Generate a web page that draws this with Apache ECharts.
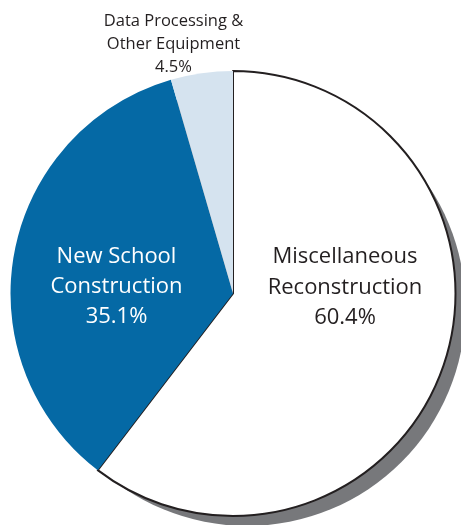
<!DOCTYPE html>
<html>
<head>
<meta charset="utf-8">
<script src="https://cdn.jsdelivr.net/npm/echarts@6/dist/echarts.min.js"></script>
<style>
html,body{margin:0;padding:0;background:#fff;}
#chart{width:461px;height:525px;}
</style>
</head>
<body>
<div id="chart"></div>
<script>
const categories = ['Miscellaneous\nReconstruction', 'New School\nConstruction', 'Data Processing &\nOther Equipment'];
const values = [60.4, 35.1, 4.5];
const sliceColors = ['#ffffff', '#0569a5', '#d5e3ef'];
const labelColors = ['#231f20', '#ffffff', '#231f20'];
const labelSizes = [22, 22, 16.5];
const labelLineHeights = [30.5, 30, 23];
const labelPos = [[345, 287.5], [116.5, 286.5], [173.5, 44.5]];

const chart = echarts.init(document.getElementById('chart'), null, {renderer: 'canvas'});
const FONT = '"Open Sans", "Noto Sans", sans-serif';

const data = categories.map((c, i) => ({
  name: c,
  value: values[i],
  itemStyle: {
    color: sliceColors[i],
    borderColor: i === 0 ? '#231f20' : sliceColors[i],
    borderWidth: i === 0 ? 2 : 0
  },
  label: {
    color: labelColors[i],
    fontSize: labelSizes[i],
    lineHeight: labelLineHeights[i]
  }
}));

chart.setOption({
  animation: false,
  backgroundColor: '#ffffff',
  series: [
    {
      type: 'pie',
      silent: true,
      center: [247, 307.5],
      radius: [0, 218.5],
      z: 1,
      label: {show: false},
      labelLine: {show: false},
      itemStyle: {color: '#77787b'},
      data: [{value: 1, name: 'shadow'}]
    },
    {
      type: 'pie',
      z: 2,
      center: [233, 293.5],
      radius: [0, 222.5],
      startAngle: 90,
      clockwise: true,
      avoidLabelOverlap: false,
      label: {
        show: true,
        position: 'inside',
        fontFamily: FONT,
        align: 'center',
        formatter: p => p.name + '\n' + p.value + '%'
      },
      labelLine: {show: false},
      labelLayout: function (params) {
        const p = labelPos[params.dataIndex];
        return {x: p[0], y: p[1], align: 'center', verticalAlign: 'middle'};
      },
      emphasis: {disabled: true},
      data: data
    }
  ]
});
</script>
</body>
</html>
